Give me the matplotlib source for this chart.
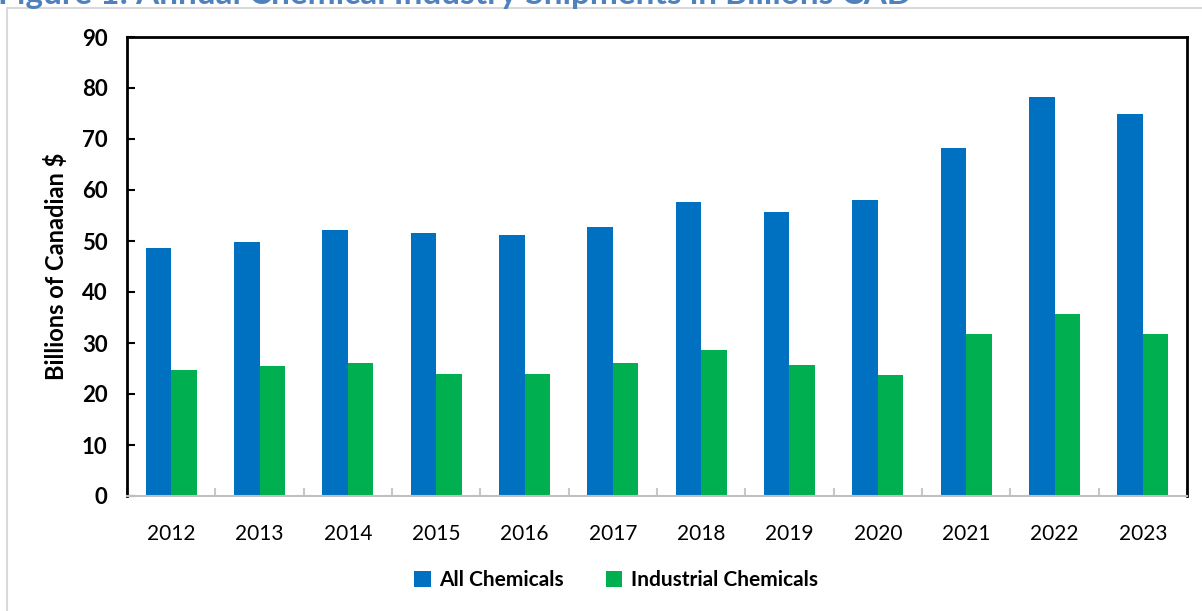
import numpy as np
import matplotlib.pyplot as plt
from matplotlib.patches import Rectangle

# ---------------------------- дані ----------------------------
years = ['2012', '2013', '2014', '2015', '2016', '2017',
         '2018', '2019', '2020', '2021', '2022', '2023']
all_chem = [48.6, 49.8, 52.2, 51.6, 51.2, 52.7, 57.6, 55.7, 58.0, 68.2, 78.2, 74.9]
ind_chem = [24.7, 25.5, 26.1, 23.9, 23.9, 26.1, 28.6, 25.7, 23.7, 31.8, 35.7, 31.8]

blue = '#0070C0'
green = '#00B050'
plt.rcParams['font.family'] = ['Lato', 'DejaVu Sans']

fig = plt.figure(figsize=(12.02, 6.11), dpi=100)
ax = fig.add_axes([127 / 1202, 1 - 496 / 611, 1060 / 1202, 459 / 611])

x = np.arange(len(years))
w = 0.287
ax.bar(x - w / 2, all_chem, w, color=blue, label='All Chemicals')
ax.bar(x + w / 2, ind_chem, w, color=green, label='Industrial Chemicals')

ax.set_xlim(-0.5, len(years) - 0.5)
ax.set_ylim(0, 90)
ax.set_yticks(range(0, 91, 10))
ax.set_xticks(x)
ax.set_xticklabels(years, fontsize=15)
ax.set_xticks(np.arange(-0.5, len(years), 1), minor=True)
ax.tick_params(axis='x', which='major', length=0, pad=20)
ax.tick_params(axis='x', which='minor', direction='in', length=6, color='#C8C8C8', width=1.5)
ax.tick_params(axis='y', direction='in', length=6, width=1.5, labelsize=16, pad=14)
for lab in ax.get_yticklabels():
    lab.set_fontweight('bold')
ax.set_ylabel('Billions of Canadian $', fontsize=17, fontweight='bold', labelpad=10)

for s in ['left', 'top', 'right']:
    ax.spines[s].set_linewidth(2)
    ax.spines[s].set_color('black')
ax.spines['bottom'].set_color('#BFBFBF')
ax.spines['bottom'].set_linewidth(1.5)

fig.legend(loc='center', bbox_to_anchor=(0.5125, 1 - 580 / 611), ncol=2, frameon=False,
           prop={'weight': 'bold', 'size': 15}, handlelength=0.8, handleheight=0.8,
           handletextpad=0.4, columnspacing=2.0)

# рамка навколо діаграми
fig.patches.append(Rectangle((7 / 1202, -0.01), 1.1, 1 - 8 / 611 + 0.01,
                             transform=fig.transFigure, fill=False,
                             edgecolor='#D9D9D9', linewidth=1.5))
# обрізаний заголовок зверху
fig.text(-0.002, 1 - 4 / 611, 'Figure 1: Annual Chemical Industry Shipments in Billions CAD',
         fontsize=24, fontweight='bold', color='#4F81BD', va='baseline', ha='left')

fig.savefig('out.png', dpi=100)
